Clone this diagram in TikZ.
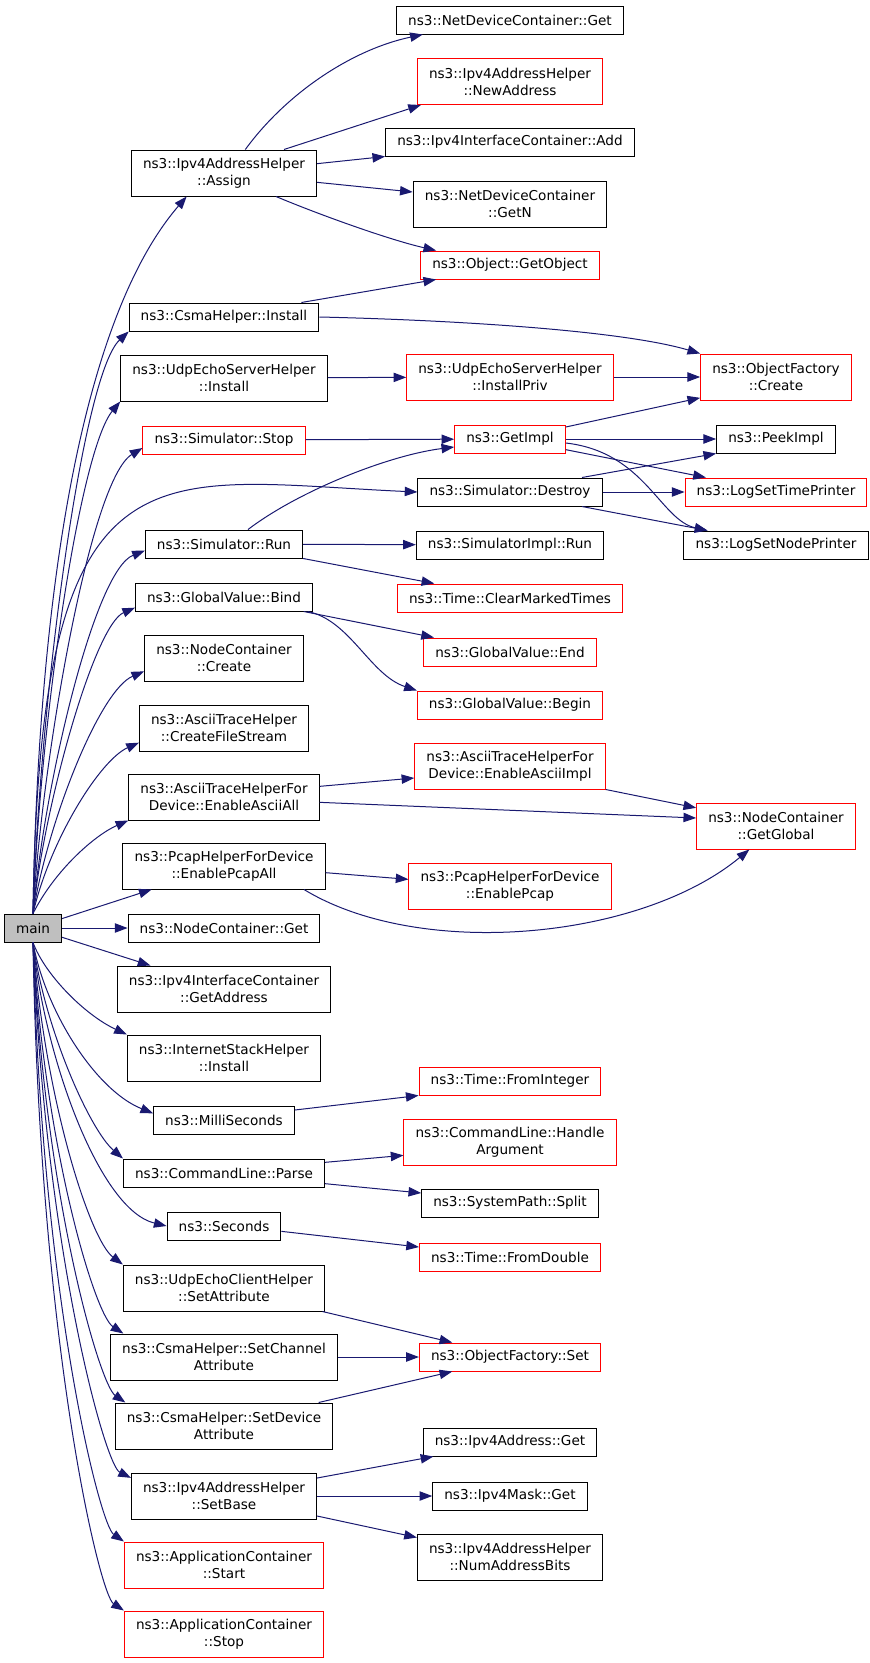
\documentclass[tikz,border=0pt]{standalone}
\usepackage{fontspec}
\setmainfont{DejaVu Sans}
\usetikzlibrary{arrows.meta}
\definecolor{edgeblue}{HTML}{191970}
\definecolor{boxred}{HTML}{FF0000}
\definecolor{maingray}{HTML}{BFBFBF}

\begin{document}
\begin{tikzpicture}[x=0.75pt, y=-0.75pt,
    fn/.style={draw=black, line width=0.75pt, rectangle, align=center, inner xsep=8.7pt, inner ysep=0pt,
      font=\fontsize{10.2}{12.75}\selectfont, minimum height=21pt},
    two/.style={minimum height=34.5pt},
    undoc/.style={draw=boxred},
    edge/.style={color=edgeblue, line width=0.75pt, -{Triangle[length=9.5pt,width=7pt]}}]
    \useasboundingbox (0,0) rectangle (869,1663);
    % caller
    \node[fn, fill=maingray] (main) at (33,928) {main};
    % first column
    \node[fn,two] (assign) at (224,173) {ns3::Ipv4AddressHelper\\::Assign};
    \node[fn] (csmainst) at (224,317) {ns3::CsmaHelper::Install};
    \node[fn,two] (udpsrv) at (224,378) {ns3::UdpEchoServerHelper\\::Install};
    \node[fn,undoc] (simstop) at (224,440) {ns3::Simulator::Stop};
    \node[fn] (simrun) at (224,544) {ns3::Simulator::Run};
    \node[fn] (bind) at (224,597) {ns3::GlobalValue::Bind};
    \node[fn,two] (nccreate) at (224,658) {ns3::NodeContainer\\::Create};
    \node[fn,two] (filestream) at (224,728) {ns3::AsciiTraceHelper\\::CreateFileStream};
    \node[fn,two] (asciiall) at (224,797) {ns3::AsciiTraceHelperFor\\Device::EnableAsciiAll};
    \node[fn,two] (pcapall) at (224,866) {ns3::PcapHelperForDevice\\::EnablePcapAll};
    \node[fn] (ncget) at (224,928) {ns3::NodeContainer::Get};
    \node[fn,two] (getaddr) at (224,989) {ns3::Ipv4InterfaceContainer\\::GetAddress};
    \node[fn,two] (inetinst) at (224,1058) {ns3::InternetStackHelper\\::Install};
    \node[fn] (milli) at (224,1120) {ns3::MilliSeconds};
    \node[fn] (parse) at (224,1173) {ns3::CommandLine::Parse};
    \node[fn] (seconds) at (224,1226) {ns3::Seconds};
    \node[fn,two] (udpclient) at (224,1288) {ns3::UdpEchoClientHelper\\::SetAttribute};
    \node[fn,two] (setchan) at (224,1357) {ns3::CsmaHelper::SetChannel\\Attribute};
    \node[fn,two] (setdev) at (224,1426) {ns3::CsmaHelper::SetDevice\\Attribute};
    \node[fn,two] (setbase) at (224,1496) {ns3::Ipv4AddressHelper\\::SetBase};
    \node[fn,two,undoc] (appstart) at (224,1565) {ns3::ApplicationContainer\\::Start};
    \node[fn,two,undoc] (appstop) at (224,1634) {ns3::ApplicationContainer\\::Stop};
    % second column
    \node[fn] (ndcget) at (510,20) {ns3::NetDeviceContainer::Get};
    \node[fn,two,undoc] (newaddr) at (510,81.5) {ns3::Ipv4AddressHelper\\::NewAddress};
    \node[fn] (ifadd) at (510,142) {ns3::Ipv4InterfaceContainer::Add};
    \node[fn,two] (getn) at (510,204) {ns3::NetDeviceContainer\\::GetN};
    \node[fn,undoc] (getobject) at (510,265) {ns3::Object::GetObject};
    \node[fn,two,undoc] (installpriv) at (510,377) {ns3::UdpEchoServerHelper\\::InstallPriv};
    \node[fn,undoc] (getimpl) at (510,439) {ns3::GetImpl};
    \node[fn] (destroy) at (510,492) {ns3::Simulator::Destroy};
    \node[fn] (implrun) at (510,545) {ns3::SimulatorImpl::Run};
    \node[fn,undoc] (clearmarked) at (510,598) {ns3::Time::ClearMarkedTimes};
    \node[fn,undoc] (gvend) at (510,652) {ns3::GlobalValue::End};
    \node[fn,undoc] (gvbegin) at (510,705) {ns3::GlobalValue::Begin};
    \node[fn,two,undoc] (asciiimpl) at (510,766) {ns3::AsciiTraceHelperFor\\Device::EnableAsciiImpl};
    \node[fn,two,undoc] (enablepcap) at (510,886) {ns3::PcapHelperForDevice\\::EnablePcap};
    \node[fn,undoc] (fromint) at (510,1081) {ns3::Time::FromInteger};
    \node[fn,two,undoc] (handlearg) at (510,1142) {ns3::CommandLine::Handle\\Argument};
    \node[fn] (split) at (510,1203) {ns3::SystemPath::Split};
    \node[fn,undoc] (fromdouble) at (510,1257) {ns3::Time::FromDouble};
    \node[fn,undoc] (ofset) at (510,1357) {ns3::ObjectFactory::Set};
    \node[fn] (addrget) at (510,1442) {ns3::Ipv4Address::Get};
    \node[fn] (maskget) at (510,1496) {ns3::Ipv4Mask::Get};
    \node[fn,two] (numbits) at (510,1557) {ns3::Ipv4AddressHelper\\::NumAddressBits};
    % third column
    \node[fn,two,undoc] (ofcreate) at (776,377) {ns3::ObjectFactory\\::Create};
    \node[fn] (peekimpl) at (776,439) {ns3::PeekImpl};
    \node[fn,undoc] (logtime) at (776,492) {ns3::LogSetTimePrinter};
    \node[fn] (lognode) at (776,545) {ns3::LogSetNodePrinter};
    \node[fn,two,undoc] (getglobal) at (776,826) {ns3::NodeContainer\\::GetGlobal};
    % calls from main, upwards
    \draw [edge] (main.north) .. controls (38,600) and (80,320) .. ([xshift=-28pt]assign.south);
    \draw [edge] (main.north) .. controls (40,700) and (82,375) .. (csmainst.south west);
    \draw [edge] (main.north) .. controls (40,720) and (80,450) .. (udpsrv.south west);
    \draw [edge] (main.north) .. controls (42,760) and (90,480) .. ([yshift=-6pt]simstop.west);
    \draw [edge] (main.north) .. controls (40,430) and (150,480) .. (destroy.west);
    \draw [edge] (main.north) .. controls (45,780) and (95,570) .. ([yshift=-5pt]simrun.west);
    \draw [edge] (main.north) .. controls (45,800) and (95,625) .. ([yshift=-8pt]bind.west);
    \draw [edge] (main.north) .. controls (48,820) and (100,690) .. ([yshift=-10pt]nccreate.west);
    \draw [edge] (main.north) .. controls (50,840) and (100,760) .. ([yshift=-11pt]filestream.west);
    \draw [edge] (main.north) .. controls (55,870) and (95,835) .. (asciiall.south west);
    \draw [edge] (main) -- (pcapall);
    \draw [edge] (main) -- (ncget);
    \draw [edge] (main) -- (getaddr);
    % calls from main, downwards
    \draw [edge] (main.south) .. controls (45,975) and (85,1015) .. (inetinst.north west);
    \draw [edge] (main.south) .. controls (45,1010) and (95,1090) .. ([yshift=5pt]milli.west);
    \draw [edge] (main.south) .. controls (45,1030) and (90,1130) .. (parse.north west);
    \draw [edge] (main.south) .. controls (45,1060) and (100,1210) .. (seconds.west);
    \draw [edge] (main.south) .. controls (45,1100) and (90,1240) .. (udpclient.north west);
    \draw [edge] (main.south) .. controls (45,1150) and (95,1315) .. ([xshift=10pt]setchan.north west);
    \draw [edge] (main.south) .. controls (45,1200) and (100,1385) .. ([xshift=8pt]setdev.north west);
    \draw [edge] (main.south) .. controls (45,1250) and (105,1465) .. ([yshift=-4pt]setbase.north west);
    \draw [edge] (main.south) .. controls (42,1300) and (100,1525) .. (appstart.north west);
    \draw [edge] (main.south) .. controls (40,1350) and (100,1595) .. (appstop.north west);
    % second level
    \draw [edge] ([xshift=16pt]assign.north) .. controls (285,95) and (350,50) .. ([xshift=20pt]ndcget.south west);
    \draw [edge] ([xshift=45pt]assign.north) -- ([xshift=3pt]newaddr.south west);
    \draw [edge] ([yshift=7pt]assign.east) -- (ifadd.south west);
    \draw [edge] ([yshift=-7pt]assign.east) -- ([yshift=9pt]getn.west);
    \draw [edge] ([xshift=39pt]assign.south) .. controls (320,215) and (390,240) .. ([xshift=12pt]getobject.north west);
    \draw [edge] ([xshift=58pt]csmainst.north) -- ([xshift=12pt]getobject.south west);
    \draw [edge] (csmainst.east) .. controls (450,320) and (620,330) .. (ofcreate.north west);
    \draw [edge] (udpsrv) -- (installpriv);
    \draw [edge] (installpriv) -- (ofcreate);
    \draw [edge] (simstop) -- (getimpl);
    \draw [edge] ([xshift=18pt]simrun.north) .. controls (300,490) and (390,455) .. ([yshift=-6pt]getimpl.west);
    \draw [edge] (simrun) -- (implrun);
    \draw [edge] (simrun.south east) -- ([xshift=28pt]clearmarked.north west);
    \draw [edge] ([xshift=-7pt]bind.south east) -- ([xshift=8pt]gvend.north west);
    \draw [edge] ([xshift=-4pt]bind.south east) .. controls (350,620) and (370,675) .. (gvbegin.north west);
    \draw [edge] ([yshift=8pt]asciiall.east) -- ([yshift=-9pt]asciiimpl.west);
    \draw [edge] ([yshift=-4pt]asciiall.east) -- ([yshift=6pt]getglobal.west);
    \draw [edge] ([yshift=-5pt]pcapall.east) -- ([yshift=5pt]enablepcap.west);
    \draw [edge] ([xshift=60pt]pcapall.south) .. controls (420,960) and (640,940) .. ([xshift=-20pt]getglobal.south);
    \draw [edge] ([yshift=7.5pt]milli.east) -- (fromint.south west);
    \draw [edge] ([yshift=8pt]parse.east) -- ([yshift=-10pt]handlearg.west);
    \draw [edge] ([yshift=-8pt]parse.east) -- ([yshift=7.5pt]split.west);
    \draw [edge] ([yshift=-4pt]seconds.east) -- ([yshift=7.5pt]fromdouble.west);
    \draw [edge] ([xshift=-2pt]udpclient.south east) -- ([xshift=25pt]ofset.north west);
    \draw [edge] (setchan) -- (ofset);
    \draw [edge] ([xshift=-11pt]setdev.north east) -- ([xshift=25pt]ofset.south west);
    \draw [edge] ([yshift=13.5pt]setbase.east) -- ([xshift=8pt]addrget.south west);
    \draw [edge] (setbase) -- (maskget);
    \draw [edge] ([yshift=-15pt]setbase.east) -- ([yshift=-3pt]numbits.north west);
    % third level
    \draw [edge] ([yshift=9pt]getimpl.east) -- ([yshift=2pt]ofcreate.south west);
    \draw [edge] (getimpl) -- (peekimpl);
    \draw [edge] ([yshift=-8pt]getimpl.east) -- ([xshift=16pt]logtime.north west);
    \draw [edge] ([yshift=-3pt]getimpl.east) .. controls (645,452) and (660,520) .. ([xshift=18pt]lognode.north west);
    \draw [edge] ([xshift=54pt]destroy.north) -- (peekimpl.south west);
    \draw [edge] (destroy) -- (logtime);
    \draw [edge] ([xshift=54pt]destroy.south) -- ([xshift=18pt]lognode.north west);
    \draw [edge] (asciiimpl.south east) -- ([yshift=-4pt]getglobal.north west);
\end{tikzpicture}
\end{document}
